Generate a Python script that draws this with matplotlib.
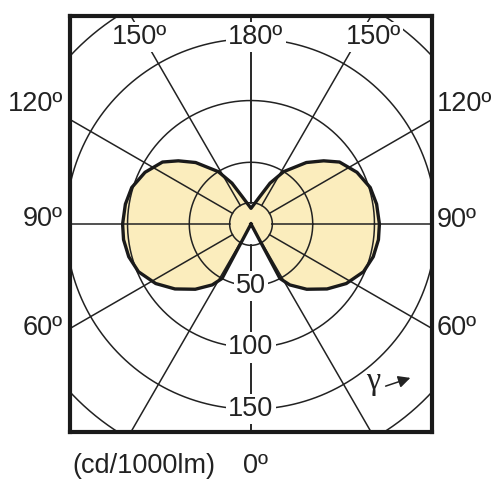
import numpy as np
import matplotlib.pyplot as plt

# luminous intensity (cd/1000lm) vs gamma angle, symmetric curve
gamma = [0, 28, 32.5, 40.5, 49.5, 58, 67, 75, 83, 90, 99, 107, 116, 125, 131, 138, 148, 155, 162, 180]
intensity = [0, 50, 58.5, 69.5, 81, 91, 99, 102.5, 104, 104, 103, 101, 95.5, 87.5, 78, 67, 50, 36.5, 23.5, 12.7]

rings = [50, 100, 150, 200]
ring_labels = ['50', '100', '150']
spokes = [0, 30, 60, 90, 120, 150, 180]
hub = 17.3

plt.rcParams['font.family'] = ['Liberation Sans', 'DejaVu Sans']
ink = '#222222'
fill = '#fbedbd'

fig = plt.figure(figsize=(5, 5), dpi=100)
ax = fig.add_axes([0.14, 0.136, 0.724, 0.832])
ax.set_xlim(-146.6, 146.6)
ax.set_ylim(-168.4, 168.4)
ax.set_aspect('equal')
ax.set_xticks([])
ax.set_yticks([])
for s in ax.spines.values():
    s.set_linewidth(3)
    s.set_color('#1a1a1a')

g = np.radians(gamma)
I = np.array(intensity)
xr = I * np.sin(g)
yr = -I * np.cos(g)
# close the curve through the mirrored (left) half
xs = np.concatenate([xr, -xr[::-1]])
ys = np.concatenate([yr, yr[::-1]])
ax.fill(xs, ys, color=fill, zorder=1, lw=0)

t = np.linspace(0, 2 * np.pi, 400)
for r in rings + [hub]:
    ax.plot(r * np.cos(t), r * np.sin(t), color=ink, lw=1.1, zorder=2)
for a in spokes:
    ar = np.radians(a)
    for sgn in (1, -1):
        ax.plot([sgn * hub * np.sin(ar), sgn * 300 * np.sin(ar)],
                [-hub * np.cos(ar), -300 * np.cos(ar)], color=ink, lw=1.1, zorder=2)

ax.plot(xs, ys, color='#1a1a1a', lw=2.4, zorder=3, solid_joinstyle='round')

box = dict(facecolor='white', edgecolor='none', pad=1.5)
for r, lab in zip(rings, ring_labels):
    ax.text(0, -r, lab, ha='center', va='center', fontsize=19.5, color=ink, bbox=box, zorder=4)

fs = 19.5
def ftext(x, y, s, **kw):
    fig.text(x / 500, 1 - y / 500, s, fontsize=fs, color=ink, va='center', **kw)

ftext(140, 37, '150º', ha='center', bbox=box, zorder=5)
ftext(256, 37, '180º', ha='center', bbox=box, zorder=5)
ftext(373, 37, '150º', ha='center', bbox=box, zorder=5)
ftext(63, 104, '120º', ha='right')
ftext(63, 219, '90º', ha='right')
ftext(63, 328, '60º', ha='right')
ftext(437, 104, '120º', ha='left')
ftext(437, 220, '90º', ha='left')
ftext(437, 328, '60º', ha='left')
ftext(72, 466, '(cd/1000lm)', ha='left')
ftext(256, 466, '0º', ha='center')

fig.text(373 / 500, 1 - 382 / 500, 'γ', fontsize=23, color=ink, ha='center', va='center',
         family=['Liberation Serif', 'DejaVu Serif'])
ax.annotate('', xy=(413 / 500, 1 - 377 / 500), xytext=(383 / 500, 1 - 387 / 500),
            xycoords='figure fraction', textcoords='figure fraction',
            arrowprops=dict(arrowstyle='-|>', color=ink, lw=1.1, mutation_scale=18))

fig.savefig('out.png', dpi=100)
